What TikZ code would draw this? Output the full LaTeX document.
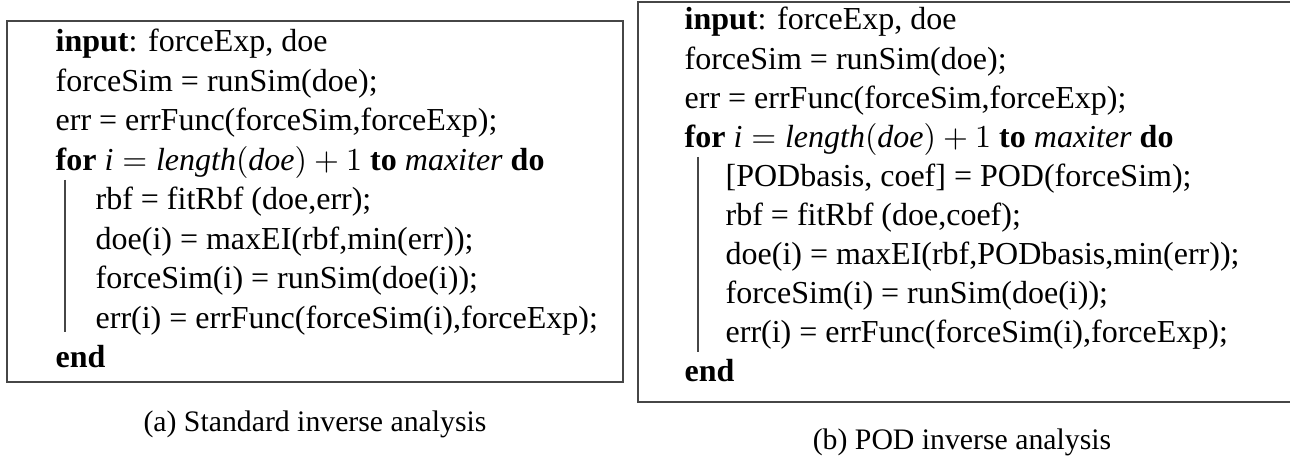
\documentclass[tikz,border=0pt]{standalone}
\usepackage{amsmath}
\usepackage{fontspec}
\setmainfont{Liberation Serif}
\usetikzlibrary{positioning}
\definecolor{framegray}{RGB}{70,70,70}
\newcommand{\mv}[1]{\textit{#1}}
\tikzset{
  algline/.style={anchor=base west,inner sep=0pt,font=\fontsize{10}{12}\selectfont},
  algframe/.style={draw=framegray,line width=0.6pt},
  algbar/.style={draw=framegray,line width=0.4pt},
  subcap/.style={anchor=base,inner sep=0pt,font=\fontsize{9.3}{11}\selectfont}
}
\begin{document}
\begin{tikzpicture}[x=0.3125pt,y=-0.3125pt]
  \useasboundingbox (0,0) rectangle (1290,459);
  % Left: standard inverse analysis
  \draw[algframe] (7,21) rectangle (623,382);
  \node[algline] (la1) at (55,52) {\textbf{input}: forceExp, doe};
  \node[algline] (la2) at (55,91.5) {forceSim = runSim(doe);};
  \node[algline] (la3) at (55,131) {err = errFunc(forceSim,forceExp);};
  \node[algline] (la4) at (55,170.5) {\textbf{for} $\mv{i} = \mv{length}(\mv{doe}) + 1$ \textbf{to} \mv{maxiter} \textbf{do}};
  \node[algline] (la5) at (95,210) {rbf = fitRbf (doe,err);};
  \node[algline] (la6) at (95,249.5) {doe(i) = maxEI(rbf,min(err));};
  \node[algline] (la7) at (95,289) {forceSim(i) = runSim(doe(i));};
  \node[algline] (la8) at (95,328.5) {err(i) = errFunc(forceSim(i),forceExp);};
  \node[algline] (la9) at (55,368) {\textbf{end}};
  \draw[algbar] (65,180) -- (65,332);
  \node[subcap] (capa) at (315,432) {(a) Standard inverse analysis};
  % Right: POD inverse analysis
  \draw[algframe] (638,2) rectangle (1300,402);
  \node[algline] (lb1) at (684,30) {\textbf{input}: forceExp, doe};
  \node[algline] (lb2) at (684,69.1) {forceSim = runSim(doe);};
  \node[algline] (lb3) at (684,108.2) {err = errFunc(forceSim,forceExp);};
  \node[algline] (lb4) at (684,147.3) {\textbf{for} $\mv{i} = \mv{length}(\mv{doe}) + 1$ \textbf{to} \mv{maxiter} \textbf{do}};
  \node[algline] (lb5) at (725,186.4) {[PODbasis, coef] = POD(forceSim);};
  \node[algline] (lb6) at (725,225.5) {rbf = fitRbf (doe,coef);};
  \node[algline] (lb7) at (725,264.6) {doe(i) = maxEI(rbf,PODbasis,min(err));};
  \node[algline] (lb8) at (725,303.7) {forceSim(i) = runSim(doe(i));};
  \node[algline] (lb9) at (725,342.8) {err(i) = errFunc(forceSim(i),forceExp);};
  \node[algline] (lb10) at (684,382) {\textbf{end}};
  \draw[algbar] (698,157) -- (698,352);
  \node[subcap] (capb) at (962,450) {(b) POD inverse analysis};
\end{tikzpicture}
\end{document}
